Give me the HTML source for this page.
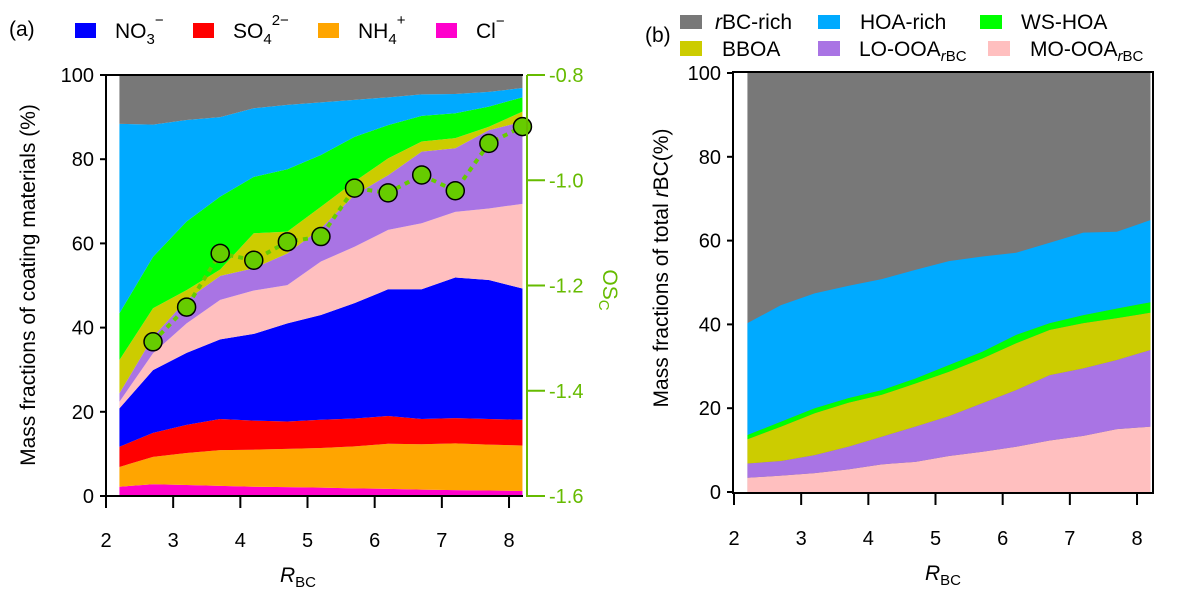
<!DOCTYPE html>
<html><head><meta charset="utf-8"><style>
body{margin:0;background:#fff}
svg{display:block;font-family:"Liberation Sans",Arial,sans-serif}
</style></head><body>
<svg id="fig" width="1186" height="591" viewBox="0 0 1186 591" xmlns="http://www.w3.org/2000/svg">
<g id="pa"></g>
<g id="pb"></g>
</svg>
<script>
// ---- Panel (a) data ----
const xA = [2.2,2.7,3.2,3.7,4.2,4.7,5.2,5.7,6.2,6.7,7.2,7.7,8.2];
const clA   = [2.2,2.8,2.6,2.4,2.2,2.1,2.0,1.8,1.7,1.5,1.4,1.3,1.2];
const nh4A  = [4.7,6.5,7.6,8.5,8.8,9.1,9.4,10.0,10.7,10.8,11.1,10.9,10.8];
const so4A  = [4.8,5.7,6.7,7.4,6.9,6.5,6.7,6.6,6.6,6.0,6.0,6.1,6.1];
const no3A  = [9.1,14.9,17.1,18.9,20.6,23.3,24.9,27.4,30.1,30.8,33.4,33.0,31.2];
const mooA  = [1.6,4.0,7.0,9.4,10.3,9.1,12.7,13.4,14.1,15.7,15.6,17.0,20.1];
const looA  = [2.0,3.9,5.6,5.7,5.3,7.5,7.9,12.3,13.0,17.0,15.1,18.6,19.5];
const bboA  = [7.9,6.8,2.3,1.5,8.3,5.2,5.1,3.2,4.0,2.4,2.4,0.8,2.4];
const wshA  = [11.1,12.2,16.3,17.3,13.4,14.8,12.3,10.6,7.9,6.1,5.9,4.8,3.4];
const hoaA  = [45.0,31.4,24.1,18.9,16.3,15.3,12.5,8.8,6.6,5.1,4.6,3.5,2.2];
const oscX = [2.7,3.2,3.7,4.2,4.7,5.2,5.7,6.2,6.7,7.2,7.7,8.2];
const oscV = [-1.307,-1.241,-1.139,-1.152,-1.117,-1.107,-1.015,-1.024,-0.990,-1.020,-0.930,-0.898];
const xTicks = [2,3,4,5,6,7,8];
const yTicks = [0,20,40,60,80,100];
const oscTicks = [-1.6,-1.4,-1.2,-1.0,-0.8];
const oscLabels = ["-1.6","-1.4","-1.2","-1.0","-0.8"];
// ---- Panel (b) data ----
const xB = [2.2,2.7,3.2,3.7,4.2,4.7,5.2,5.7,6.2,6.7,7.2,7.7,8.2];
const mooB = [3.4,3.9,4.5,5.4,6.6,7.2,8.6,9.6,10.8,12.3,13.4,15.0,15.6];
const looB = [3.4,3.5,4.3,5.4,6.6,8.4,9.5,11.6,13.5,15.6,16.1,16.5,18.3];
const bboB = [5.8,8.2,10.0,10.5,10.0,10.3,10.6,10.7,11.2,10.8,10.8,10.0,8.9];
const wshB = [1.0,1.2,1.2,1.1,1.1,1.2,1.6,1.6,2.0,1.6,1.9,2.3,2.5];
const hoaB = [26.7,27.8,27.4,26.8,26.5,25.9,24.8,22.7,19.6,19.2,19.7,18.3,19.6];
const NS="http://www.w3.org/2000/svg";
function mk(parent,tag,attrs,text){const e=document.createElementNS(NS,tag);for(const k in attrs)e.setAttribute(k,attrs[k]);if(text!==undefined)e.textContent=text;parent.appendChild(e);return e;}

function stackArea(g,xs,xf,yf,layers,colors,names){
  let base=xs.map(()=>0);
  layers.forEach((L,i)=>{
    const top=base.map((b,j)=>b+L[j]);
    let d="M"+xs.map((x,j)=>xf(x)+","+yf(top[j])).join("L");
    for(let j=xs.length-1;j>=0;j--)d+="L"+xf(xs[j])+","+yf(base[j]);
    d+="Z";
    const p=mk(g,"path",{d:d,fill:colors[i]});
    
    
    base=top;
  });
  return base;
}

// ===== Panel A =====
(function(){
  const g=document.getElementById("pa");
  const xf=v=>106+(v-2)*67.17, yf=v=>496-v*4.21, of=v=>75+(-0.8-v)*526.25;
  const top=stackArea(g,xA,xf,yf,[clA,nh4A,so4A,no3A,mooA,looA,bboA,wshA,hoaA],
    ["#ff00cc","#ffa500","#ff0000","#0000ff","#ffbfbf","#a974e4","#cccc00","#00ff00","#00aaff"],
    ["area-cl","area-nh4","area-so4","area-no3","area-mo-ooa","area-lo-ooa","area-bboa","area-ws-hoa","area-hoa-rich"]);
  let d="M"+xA.map((x,j)=>xf(x)+","+yf(top[j])).join("L")+"L"+xf(8.2)+","+yf(100)+"L"+xf(2.2)+","+yf(100)+"Z";
  const gp=mk(g,"path",{d:d,fill:"#787878"});
  
  
  const ln=mk(g,"polyline",{points:oscX.map((x,j)=>xf(x)+","+of(oscV[j])).join(" "),fill:"none",stroke:"#66cc00","stroke-width":4,"stroke-dasharray":"5,5"});
  
  
  oscX.forEach((x,j)=>{const c=mk(g,"circle",{cx:xf(x),cy:of(oscV[j]),r:9,fill:"#66cc00",stroke:"#000","stroke-width":1.5});
    
    });
  mk(g,"path",{d:"M106,75H523M106,75V497M105,496H523",stroke:"#000","stroke-width":2,fill:"none"});
  mk(g,"path",{d:"M527,75V497",stroke:"#66bb00","stroke-width":2});
  yTicks.forEach(v=>{mk(g,"line",{x1:100,x2:106,y1:yf(v),y2:yf(v),stroke:"#000","stroke-width":2});
    const t=mk(g,"text",{x:94,y:yf(v)+7,"text-anchor":"end","font-size":20},v);
    
    });
  xTicks.forEach(v=>{mk(g,"line",{x1:xf(v),x2:xf(v),y1:496,y2:508,stroke:"#000","stroke-width":2});
    const t=mk(g,"text",{x:xf(v),y:547,"text-anchor":"middle","font-size":20},v);
    
    });
  oscTicks.forEach((v,i)=>{mk(g,"line",{x1:527,x2:545,y1:of(v),y2:of(v),stroke:"#66bb00","stroke-width":2});
    const t=mk(g,"text",{x:549,y:of(v)+7,"font-size":20,fill:"#66bb00"},oscLabels[i]);
    
    });
})();

// ===== Panel B =====
(function(){
  const g=document.getElementById("pb");
  const xf=v=>734+(v-2)*67.17, yf=v=>492-v*4.19;
  mk(g,"rect",{x:xf(2.2),y:yf(100),width:xf(8.2)-xf(2.2),height:yf(0)-yf(100),fill:"#787878",});
  stackArea(g,xB,xf,yf,[mooB,looB,bboB,wshB,hoaB],
    ["#ffbfbf","#a974e4","#cccc00","#00ff00","#00aaff"],
    ["area-mo-ooa","area-lo-ooa","area-bboa","area-ws-hoa","area-hoa-rich"]);
  mk(g,"rect",{x:733,y:72,width:420,height:421,fill:"none",stroke:"#000","stroke-width":2});
  yTicks.forEach(v=>{mk(g,"line",{x1:727,x2:733,y1:yf(v),y2:yf(v),stroke:"#000","stroke-width":2});
    const t=mk(g,"text",{x:721,y:yf(v)+7,"text-anchor":"end","font-size":20},v);
    
    });
  xTicks.forEach(v=>{mk(g,"line",{x1:xf(v),x2:xf(v),y1:493,y2:505,stroke:"#000","stroke-width":2});
    const t=mk(g,"text",{x:xf(v),y:545,"text-anchor":"middle","font-size":20},v);
    
    });
})();
</script>
<svg width="1186" height="591" style="position:absolute;left:0;top:0" xmlns="http://www.w3.org/2000/svg">
 <g font-size="21" font-family="Liberation Sans, Arial, sans-serif">
  <text x="9" y="36">(a)</text>
  <rect x="75" y="23" width="21" height="15" fill="#0000ff"/>
  <text x="115" y="38">NO<tspan font-size="15" dy="6">3</tspan><tspan font-size="15" dy="-19">−</tspan></text>
  <rect x="193" y="23" width="21" height="15" fill="#ff0000"/>
  <text x="233" y="38">SO<tspan font-size="15" dy="6">4</tspan><tspan font-size="15" dy="-19">2−</tspan></text>
  <rect x="318" y="23" width="21" height="15" fill="#ffa500"/>
  <text x="358" y="38">NH<tspan font-size="15" dy="6">4</tspan><tspan font-size="15" dy="-19">+</tspan></text>
  <rect x="436" y="23" width="21" height="15" fill="#ff00cc"/>
  <text x="476" y="38">Cl<tspan font-size="15" dy="-12">−</tspan></text>
  <text transform="translate(35,285) rotate(-90)" text-anchor="middle">Mass fractions of coating materials (%)</text>
  <text transform="translate(603,290) rotate(90)" text-anchor="middle" fill="#66bb00">OS<tspan font-size="15" dy="4">C</tspan></text>
  <text x="280" y="582" font-style="italic">R<tspan font-style="normal" font-size="15" dy="5">BC</tspan></text>

  <text x="645" y="42">(b)</text>
  <rect x="680" y="15" width="22" height="14" fill="#787878"/>
  <text x="715" y="29"><tspan font-style="italic">r</tspan>BC-rich</text>
  <rect x="818" y="15" width="22" height="14" fill="#00aaff"/>
  <text x="860" y="29">HOA-rich</text>
  <rect x="980" y="15" width="22" height="14" fill="#00ff00"/>
  <text x="1021" y="29">WS-HOA</text>
  <rect x="680" y="41" width="22" height="15" fill="#cccc00"/>
  <text x="722" y="56">BBOA</text>
  <rect x="818" y="41" width="22" height="15" fill="#a974e4"/>
  <text x="859" y="56">LO-OOA<tspan font-size="15" dy="5"><tspan font-style="italic">r</tspan>BC</tspan></text>
  <rect x="988" y="41" width="22" height="15" fill="#ffbfbf"/>
  <text x="1030" y="56">MO-OOA<tspan font-size="15" dy="5"><tspan font-style="italic">r</tspan>BC</tspan></text>
  <text transform="translate(668,268) rotate(-90)" text-anchor="middle">Mass fractions of total <tspan font-style="italic">r</tspan>BC(%)</text>
  <text x="925" y="580" font-style="italic">R<tspan font-style="normal" font-size="15" dy="5">BC</tspan></text>
 </g>
</svg>
</body></html>
